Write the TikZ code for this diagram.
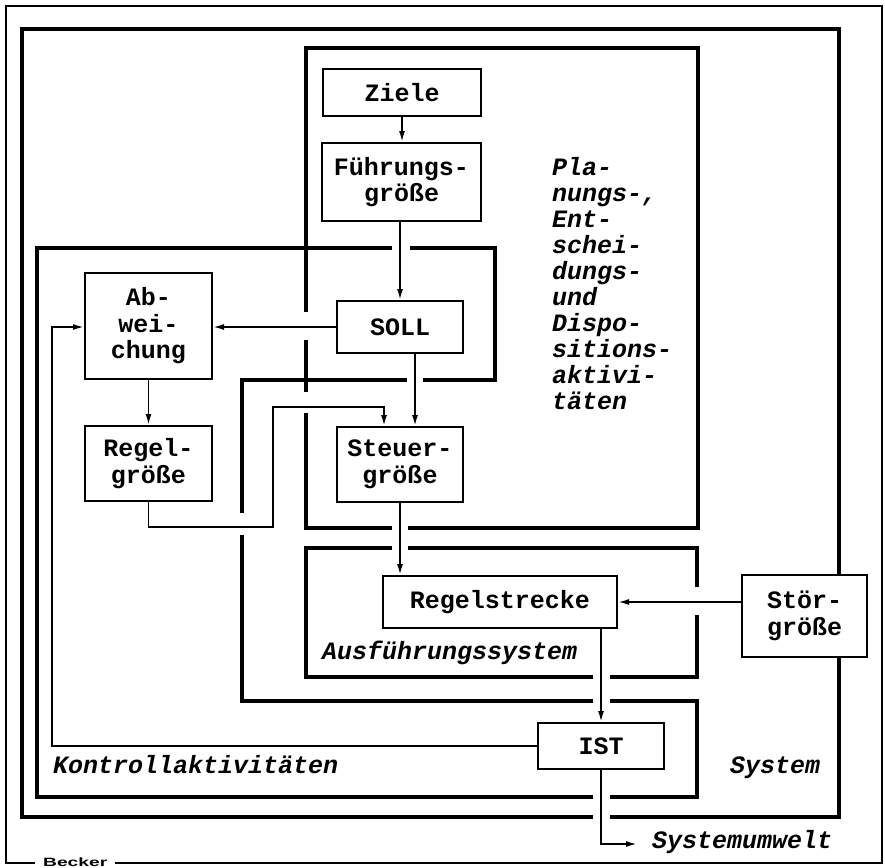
\documentclass[tikz,border=0pt]{standalone}
\usepackage{graphicx}
\usepackage{fontspec}
\setmainfont{Liberation Sans}
\setmonofont{Liberation Mono}
\usetikzlibrary{arrows.meta}
\newcommand\boxfont{\ttfamily\bfseries\fontsize{25}{26.5}\selectfont}
\newcommand\labfont{\ttfamily\bfseries\itshape\fontsize{25}{26}\selectfont}
\begin{document}
\begin{tikzpicture}[x=1pt,y=-1pt,
  box/.style={draw, line width=2pt, inner sep=0pt, align=center, font=\boxfont, fill=white},
  lab/.style={inner sep=0pt, font=\labfont},
  region/.style={line width=4.8pt, line join=miter},
  frame/.style={line width=2pt, line join=miter},
  conn/.style={line width=1.8pt},
  arr/.style={conn, -{Latex[length=11pt,width=6pt]}}]
\useasboundingbox (0,0) rectangle (885,867);

% outer frame
\draw[frame] (35,863) -- (6,863) -- (6,6) -- (882,6) -- (882,863) -- (115,863);
\node[inner sep=0pt, anchor=base west, font=\fontsize{12}{12}\selectfont\bfseries] (becker) at (43,866) {\scalebox{1.6}[1]{Becker}};

% System region
\draw[region] (593,817) -- (22,817) -- (22,29) -- (839,29) -- (839,575);
\draw[region] (839,657) -- (839,817) -- (610,817);

% Planungs region
\draw[region] (392,528) -- (306,528) -- (306,413);
\draw[region] (306,392) -- (306,340);
\draw[region] (306,312) -- (306,48) -- (698,48) -- (698,528) -- (408,528);

% Kontroll region
\draw[region] (392,248) -- (37,248) -- (37,797) -- (593,797);
\draw[region] (610,797) -- (697,797) -- (697,701) -- (610,701);
\draw[region] (593,701) -- (242,701) -- (242,535);
\draw[region] (242,513) -- (242,380) -- (407,380);
\draw[region] (423,380) -- (495,380) -- (495,248) -- (410,248);

% Ausfuehrungs region
\draw[region] (392,548) -- (306,548) -- (306,677) -- (593,677);
\draw[region] (610,677) -- (697,677) -- (697,615);
\draw[region] (697,587) -- (697,548) -- (408,548);

% boxes
\node[box, minimum width=158pt, minimum height=47pt] (ziele) at (402,92.5) {Ziele};
\node[box, minimum width=159pt, minimum height=78pt] (fuehr) at (401.5,182) {Führungs-\\größe};
\node[box, minimum width=127pt, minimum height=106pt] (abw) at (148.5,326) {Ab-\\wei-\\chung};
\node[box, minimum width=126pt, minimum height=52pt] (soll) at (400,327) {SOLL};
\node[box, minimum width=127pt, minimum height=75pt] (regelg) at (148.5,463.5) {Regel-\\größe};
\node[box, minimum width=126pt, minimum height=75pt] (steuer) at (400,464.5) {Steuer-\\größe};
\node[box, minimum width=234pt, minimum height=52pt] (rs) at (500,602) {Regelstrecke};
\node[box, minimum width=125pt, minimum height=82pt] (stoer) at (804.5,616) {Stör-\\größe};
\node[box, minimum width=126pt, minimum height=46pt] (ist) at (601,746) {IST};

% labels
\foreach \t [count=\i from 0] in {Pla-,nungs-\char44,Ent-,schei-,dungs-,und,Dispo-,sitions-,aktivi-,täten}
  \node[lab, anchor=base west] (plan\i) at (552,{175+26.1*\i}) {\t};
\node[lab, anchor=base west] (kontroll) at (53,773) {Kontrollaktivitäten};
\node[lab, anchor=base west] (ausf) at (322,659) {Ausführungssystem};
\node[lab, anchor=base west] (system) at (730,773) {System};
\coordinate (su) at (637,844);
\node[lab, anchor=base west] (umwelt) at (652,848) {Systemumwelt};

% connectors
\draw[arr] (ziele.south) -- (ziele.south |- fuehr.north);
\draw[arr] (soll.north |- fuehr.south) -- (soll.north);
\draw[arr] (soll.west) -- (soll.west -| abw.east);
\draw[arr] ([xshift=15pt]soll.south) -- ([xshift=15pt]soll.south |- steuer.north);
\draw[arr] (abw.south) -- (regelg.north);
\coordinate (r1) at (273,527);
\coordinate (r2) at (384,407);
\draw[arr] (regelg.south) |- (r1) |- (r2) -- (r2 |- steuer.north);
\draw[arr] (steuer.south) -- (steuer.south |- rs.north);
\draw[arr] (rs.east -| stoer.west) -- (rs.east);
\draw[arr] (ist.north |- rs.south) -- (ist.north);
\coordinate (fb) at (52,327);
\draw[arr] (ist.west) -| (fb) -- (fb -| abw.west);
\draw[arr] (ist.south) |- (su);
\end{tikzpicture}
\end{document}
